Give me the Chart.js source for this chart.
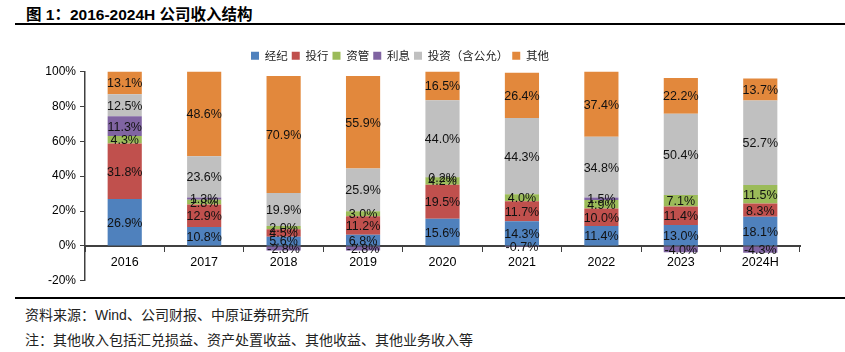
<!DOCTYPE html>
<html>
<head>
<meta charset="utf-8">
<script src="https://cdn.jsdelivr.net/npm/chart.js@4.4.1/dist/chart.umd.min.js"></script>
<style>
body { margin:0; width:845px; height:352px; background:#fff; position:relative; overflow:hidden; font-family:"Liberation Sans","Noto Sans CJK SC",sans-serif; }
#titulo { position:absolute; left:26px; top:2px; font-size:15.5px; font-weight:bold; color:#000; white-space:nowrap; }
.linha { position:absolute; left:15px; width:830px; height:2px; background:#000; }
.nota { position:absolute; left:25px; font-size:14px; color:#222; white-space:nowrap; font-family:"Liberation Sans","Noto Sans CJK SC",sans-serif; }
#caixa { position:absolute; left:0; top:46px; }
</style>
</head>
<body>
<div id="titulo">图 1：2016-2024H 公司收入结构</div>
<div class="linha" style="top:23px"></div>
<div id="caixa"><canvas id="grafico" width="845" height="246"></canvas></div>
<div class="linha" style="top:297px"></div>
<div class="nota" style="top:304px">资料来源：Wind、公司财报、中原证券研究所</div>
<div class="nota" style="top:329px">注：其他收入包括汇兑损益、资产处置收益、其他收益、其他业务收入等</div>
<script>
// dados (% da receita)
var anos = ['2016', '2017', '2018', '2019', '2020', '2021', '2022', '2023', '2024H'];
var jingji = [26.9, 10.8, 5.6, 6.8, 15.6, 14.3, 11.4, 13.0, 18.1];
var touhang = [31.8, 12.9, 4.5, 11.2, 19.5, 11.7, 10.0, 11.4, 8.3];
var ziguan = [4.3, 2.8, 2.0, 3.0, 4.2, 4.0, 4.9, 7.1, 11.5];
var lixi = [11.3, 1.3, -2.8, -2.8, 0.2, -0.7, 1.5, -4.0, -4.3];
var touzi = [12.5, 23.6, 19.9, 25.9, 44.0, 44.3, 34.8, 50.4, 52.7];
var qita = [13.1, 48.6, 70.9, 55.9, 16.5, 26.4, 37.4, 22.2, 13.7];
var yTicks = [-20, 0, 20, 40, 60, 80, 100];

var series = [
	{ nome: '经纪', valores: jingji, cor: '#4F81BD' },
	{ nome: '投行', valores: touhang, cor: '#C0504D' },
	{ nome: '资管', valores: ziguan, cor: '#9BBB59' },
	{ nome: '利息', valores: lixi, cor: '#8064A2' },
	{ nome: '投资（含公允）', valores: touzi, cor: '#C0C0C0' },
	{ nome: '其他', valores: qita, cor: '#E2883C' }
];

// grafico 100% empilhado: cada valor dividido pela soma dos valores absolutos do ano
var somas = anos.map(function (a, j) {
	var s = 0;
	series.forEach(function (sr) { s += Math.abs(sr.valores[j]); });
	return s;
});

var datasets = series.map(function (sr) {
	return {
		label: sr.nome,
		data: sr.valores.map(function (v, j) { return v / somas[j] * 100; }),
		brutos: sr.valores,
		backgroundColor: sr.cor,
		borderWidth: 0,
		barPercentage: 0.86,
		categoryPercentage: 0.5
	};
});

// rotulos dentro das barras
var rotulosPlugin = {
	id: 'rotulos',
	afterDraw: function (chart) {
		var ctx = chart.ctx;
		ctx.save();
		ctx.font = '12.5px "Liberation Sans", Arial, sans-serif';
		ctx.fillStyle = '#111';
		ctx.textAlign = 'center';
		ctx.textBaseline = 'middle';
		chart.data.datasets.forEach(function (ds, i) {
			var meta = chart.getDatasetMeta(i);
			meta.data.forEach(function (bar, j) {
				var y = (bar.y + bar.base) / 2;
				ctx.fillText(ds.brutos[j].toFixed(1) + '%', bar.x, y + 1);
			});
		});
		ctx.restore();
	}
};

var ctx = document.getElementById('grafico').getContext('2d');
var myChart = new Chart(ctx, {
	type: 'bar',
	data: { labels: anos, datasets: datasets },
	plugins: [rotulosPlugin],
	options: {
		responsive: false,
		animation: false,
		layout: { padding: { left: 0, right: 45, top: 0, bottom: 0 } },
		plugins: {
			tooltip: { enabled: false },
			legend: {
				position: 'top',
				labels: {
					boxWidth: 8,
					boxHeight: 8,
					padding: 4,
					color: '#222',
					font: { size: 11.5, family: '"Noto Sans CJK SC", sans-serif' }
				}
			}
		},
		scales: {
			x: {
				stacked: true,
				position: { y: 0 },
				grid: { offset: true, drawOnChartArea: false, drawTicks: true, tickLength: 5, color: '#404040' },
				border: { color: '#404040', width: 2 },
				ticks: { color: '#000', padding: 4, font: { size: 12.5, family: '"Liberation Sans", Arial' } },
				afterFit: function (s) { s.height = 0; }
			},
			y: {
				stacked: true,
				min: -20,
				max: 100,
				afterBuildTicks: function (s) { s.ticks = yTicks.map(function (v) { return { value: v }; }); },
				grid: { drawOnChartArea: false, drawTicks: true, tickLength: 5, color: '#404040' },
				border: { color: '#404040', width: 1.5 },
				ticks: {
					color: '#000',
					padding: 4,
					font: { size: 12, family: '"Liberation Sans", Arial' },
					callback: function (v) { return v + '%'; }
				},
				afterFit: function (s) { s.width = 85; }
			}
		}
	}
});
</script>
</body>
</html>
